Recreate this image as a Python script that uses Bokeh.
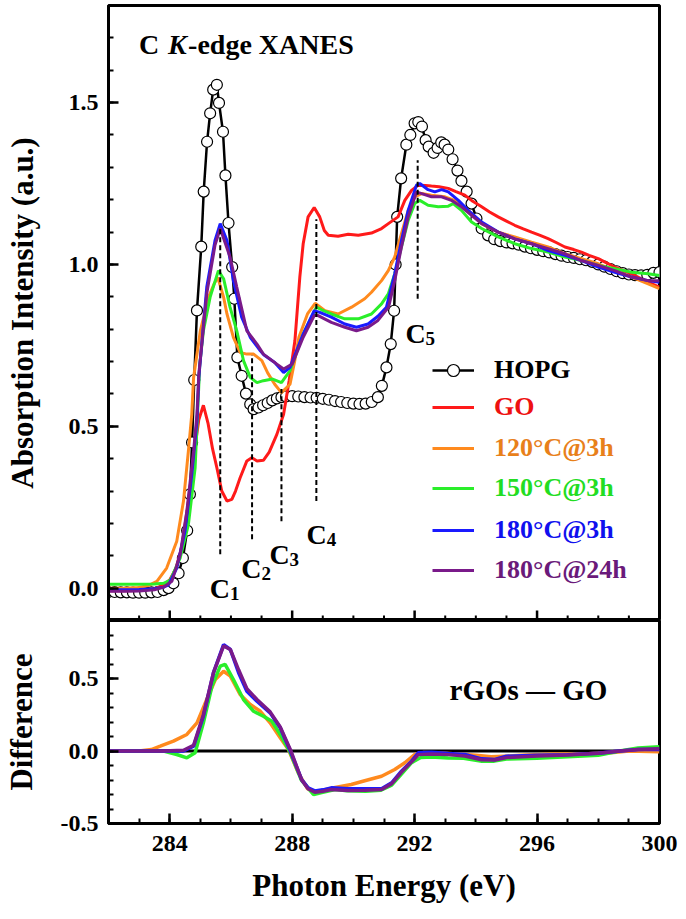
from bokeh.plotting import figure
from bokeh.models import (SingleIntervalTicker, PrintfTickFormatter, Legend, LegendItem,
                          Span, Range1d)
from bokeh.layouts import column
from bokeh.core.properties import value
from bokeh.embed import file_html
from bokeh.resources import INLINE
import math

FONT = "Liberation Serif"

# ---------------- data ----------------
hopg_e = [282.0, 282.2, 282.4, 282.6, 282.8, 283.0, 283.2, 283.4, 283.6, 283.8, 283.96, 284.12,
          284.29, 284.43, 284.57, 284.66, 284.73, 284.8, 284.89, 285.03, 285.11, 285.22, 285.32,
          285.42, 285.54, 285.61, 285.74, 285.82, 285.92, 286.04, 286.11, 286.21, 286.35, 286.49,
          286.63, 286.74, 286.9, 287.05, 287.2, 287.35, 287.5, 287.65, 287.8, 288.0, 288.2, 288.4,
          288.6, 288.8, 289.0, 289.2, 289.4, 289.6, 289.8, 290.0, 290.2, 290.4, 290.6, 290.8,
          290.93, 291.08, 291.22, 291.33, 291.38, 291.43, 291.56, 291.73, 291.86, 292.0, 292.12,
          292.24, 292.36, 292.46, 292.62, 292.75, 292.87, 292.98, 293.1, 293.24, 293.4, 293.53,
          293.7, 293.86, 294.02, 294.19, 294.4, 294.6, 294.8, 295.0, 295.2, 295.4, 295.6, 295.8,
          296.0, 296.2, 296.4, 296.6, 296.8, 297.0, 297.2, 297.4, 297.6, 297.8, 298.0, 298.2,
          298.4, 298.6, 298.8, 299.0, 299.2, 299.4, 299.6, 299.8, 300.0]
hopg_v = [-0.012, -0.012, -0.013, -0.013, -0.014, -0.014, -0.014, -0.013, -0.012, -0.006, 0.0, 0.015,
          0.046, 0.093, 0.178, 0.29, 0.45, 0.643, 0.858, 1.055, 1.225, 1.379, 1.467,
          1.54, 1.555, 1.499, 1.41, 1.275, 1.128, 0.992, 0.894, 0.713, 0.656, 0.601,
          0.568, 0.553, 0.558, 0.565, 0.572, 0.58, 0.586, 0.59, 0.592, 0.593, 0.592, 0.59,
          0.589, 0.588, 0.585, 0.582, 0.578, 0.575, 0.572, 0.57, 0.569, 0.57, 0.575, 0.59,
          0.625, 0.682, 0.754, 0.857, 1.0, 1.147, 1.266, 1.37, 1.40, 1.436, 1.44,
          1.426, 1.384, 1.364, 1.345, 1.36, 1.377, 1.37, 1.355, 1.325, 1.29, 1.258,
          1.225, 1.188, 1.142, 1.111, 1.09, 1.078, 1.072, 1.068, 1.065, 1.061, 1.055, 1.05,
          1.045, 1.041, 1.037, 1.032, 1.027, 1.023, 1.02, 1.016, 1.013, 1.008, 1.0, 0.993,
          0.986, 0.979, 0.973, 0.969, 0.967, 0.966, 0.968, 0.974, 0.976]

go_e = [282.0, 282.5, 283.0, 283.5, 283.8, 284.0, 284.2, 284.4, 284.6, 284.8, 284.95, 285.1,
        285.25, 285.4, 285.54, 285.7, 285.87, 286.03, 286.15, 286.3, 286.52, 286.68, 286.85,
        287.06, 287.25, 287.5, 287.72, 287.9, 288.09, 288.25, 288.36, 288.52, 288.72, 288.9,
        289.05, 289.18, 289.5, 289.83, 290.16, 290.59, 290.92, 291.2, 291.46, 291.68, 291.9,
        292.12, 292.35, 292.55, 292.8, 293.1, 293.35, 293.64, 293.9, 294.19, 294.45, 294.73,
        295.0, 295.27, 295.55, 295.82, 296.1, 296.36, 296.64, 296.91, 297.2, 297.45, 297.7,
        298.0, 298.27, 298.54, 298.8, 299.09, 299.36, 299.63, 300.0]
go_v = [-0.008, -0.008, -0.007, -0.002, 0.01, 0.025, 0.06, 0.13, 0.26, 0.42, 0.52, 0.565,
        0.51, 0.43, 0.372, 0.30, 0.269, 0.274, 0.30, 0.341, 0.393, 0.403, 0.393,
        0.395, 0.42, 0.475, 0.537, 0.64, 0.765, 0.961, 1.064, 1.147, 1.176, 1.147,
        1.105, 1.09, 1.087, 1.093, 1.09, 1.097, 1.111, 1.13, 1.147, 1.198, 1.229,
        1.245, 1.244, 1.242, 1.24, 1.235, 1.225, 1.214, 1.195, 1.178, 1.162, 1.147,
        1.134, 1.121, 1.11, 1.1, 1.09, 1.08, 1.067, 1.054, 1.046, 1.038, 1.028,
        1.018, 1.005, 0.992, 0.982, 0.971, 0.958, 0.945, 0.93]

r120_e = [282.0, 282.5, 283.0, 283.3, 283.58, 283.9, 284.23, 284.45, 284.61, 284.72, 284.78, 285.0,
          285.27, 285.45, 285.57, 285.76, 285.87, 286.08, 286.3, 286.52, 286.74, 287.01, 287.2,
          287.43, 287.65, 287.93, 288.08, 288.22, 288.5, 288.75, 289.07, 289.5, 289.94, 290.37,
          290.59, 290.92, 291.14, 291.35, 291.57, 291.79, 292.0, 292.23, 292.55, 292.99, 293.31,
          293.75, 294.19, 294.73, 295.27, 295.82, 296.36, 296.91, 297.45, 298.0, 298.54, 299.09,
          299.63, 300.0]
r120_v = [0.0, 0.0, 0.002, 0.008, 0.021, 0.062, 0.145, 0.269, 0.424, 0.537, 0.651, 0.795,
          0.899, 0.94, 0.96, 0.899, 0.847, 0.775, 0.728, 0.723, 0.723, 0.703, 0.665,
          0.63, 0.604, 0.63, 0.70, 0.775, 0.847, 0.88, 0.857, 0.847, 0.868, 0.894,
          0.914, 0.95, 0.981, 1.023, 1.095, 1.167, 1.209, 1.219, 1.214, 1.209, 1.198,
          1.167, 1.126, 1.1, 1.085, 1.069, 1.054, 1.033, 1.018, 1.002, 0.981, 0.961,
          0.94, 0.925]

r150_e = [282.0, 282.5, 283.0, 283.5, 283.8, 284.02, 284.34, 284.61, 284.83, 284.9, 284.98, 285.1,
          285.32, 285.59, 285.76, 285.97, 286.19, 286.41, 286.63, 286.85, 287.06, 287.36, 287.65,
          287.93, 288.36, 288.79, 288.96, 289.28, 289.72, 290.16, 290.59, 290.92, 291.14, 291.35,
          291.57, 291.79, 292.0, 292.17, 292.44, 292.77, 293.1, 293.26, 293.53, 293.86, 294.19,
          294.73, 295.27, 295.82, 296.36, 296.91, 297.45, 298.0, 298.54, 299.09, 299.63, 300.0]
r150_v = [0.012, 0.012, 0.012, 0.013, 0.015, 0.025, 0.093, 0.196, 0.372, 0.52, 0.69, 0.795,
          0.899, 0.981, 0.956, 0.868, 0.795, 0.703, 0.651, 0.635, 0.641, 0.646, 0.635,
          0.672, 0.785, 0.868, 0.86, 0.847, 0.832, 0.832, 0.847, 0.878, 0.909, 0.971,
          1.054, 1.136, 1.188, 1.198, 1.183, 1.178, 1.18, 1.188, 1.167, 1.131, 1.111,
          1.085, 1.064, 1.049, 1.038, 1.023, 1.012, 0.997, 0.987, 0.976, 0.971, 0.966]

r180_e = [282.0, 282.5, 283.0, 283.5, 283.8, 283.96, 284.23, 284.5, 284.72, 284.89, 284.95, 285.21,
          285.48, 285.65, 285.87, 286.08, 286.35, 286.63, 286.96, 287.08, 287.43, 287.72, 287.93,
          288.36, 288.72, 288.9, 289.28, 289.72, 290.1, 290.48, 290.8, 291.08, 291.35, 291.57,
          291.79, 292.06, 292.17, 292.44, 292.66, 292.88, 293.1, 293.43, 293.75, 294.19, 294.73,
          295.27, 295.82, 296.36, 296.91, 297.45, 298.0, 298.54, 299.09, 299.63, 300.0]
r180_v = [-0.005, -0.005, -0.004, -0.002, 0.003, 0.01, 0.062, 0.176, 0.351, 0.517, 0.65, 0.93,
          1.074, 1.126, 1.074, 0.95, 0.837, 0.775, 0.733, 0.72, 0.697, 0.666, 0.682,
          0.785, 0.857, 0.852, 0.837, 0.816, 0.806, 0.816, 0.84, 0.868, 0.971, 1.074,
          1.167, 1.245, 1.25, 1.231, 1.224, 1.231, 1.224, 1.198, 1.167, 1.131, 1.1,
          1.079, 1.064, 1.043, 1.028, 1.012, 0.992, 0.976, 0.961, 0.95, 0.945]

r24_e = [282.0, 282.5, 283.0, 283.5, 283.8, 284.07, 284.34, 284.56, 284.78, 284.89, 284.95, 285.21,
         285.48, 285.65, 285.97, 286.19, 286.52, 286.85, 287.06, 287.5, 287.72, 288.0, 288.36,
         288.72, 288.85, 289.28, 289.72, 290.1, 290.48, 290.79, 291.15, 291.35, 291.57, 291.79,
         292.06, 292.23, 292.55, 292.88, 293.2, 293.53, 293.86, 294.19, 294.73, 295.27, 295.82,
         296.36, 296.91, 297.45, 298.0, 298.54, 299.09, 299.63, 300.0]
r24_v = [-0.01, -0.01, -0.009, -0.005, 0.003, 0.021, 0.103, 0.238, 0.424, 0.537, 0.66, 0.91,
         1.06, 1.111, 1.023, 0.93, 0.795, 0.754, 0.723, 0.692, 0.677, 0.692, 0.775,
         0.842, 0.842, 0.821, 0.806, 0.795, 0.806, 0.826, 0.868, 0.95, 1.054, 1.147,
         1.224, 1.219, 1.209, 1.209, 1.198, 1.178, 1.152, 1.126, 1.1, 1.079, 1.064,
         1.049, 1.033, 1.012, 0.997, 0.981, 0.961, 0.95, 0.95]

# difference spectra (rGO - GO)
d120_e = [282.0, 283.0, 283.4, 283.69, 284.12, 284.56, 284.89, 285.21, 285.49, 285.76, 285.98,
          286.3, 286.63, 286.96, 287.28, 287.61, 287.88, 288.2, 288.5, 288.75, 289.0, 289.36,
          289.93, 290.37, 290.92, 291.35, 291.68, 292.0, 292.3, 293.0, 294.0, 294.5, 295.5,
          296.5, 297.5, 298.5, 299.0, 300.0]
d120_v = [0.0, 0.0, 0.01, 0.033, 0.068, 0.114, 0.194, 0.355, 0.493, 0.55, 0.516,
          0.39, 0.321, 0.274, 0.194, 0.091, 0.01, -0.15, -0.26, -0.285, -0.27, -0.254,
          -0.231, -0.205, -0.174, -0.128, -0.081, -0.024, -0.01, -0.015, -0.03, -0.04, -0.03,
          -0.02, -0.02, -0.01, 0.0, -0.005]

d150_e = [282.0, 283.5, 283.8, 284.23, 284.56, 284.83, 285.1, 285.38, 285.65, 285.81, 286.08,
          286.41, 286.74, 287.06, 287.34, 287.61, 287.94, 288.3, 288.7, 289.0, 289.4, 289.8,
          290.4, 290.9, 291.25, 291.57, 291.9, 292.2, 292.55, 293.1, 293.6, 294.2, 294.6,
          295.0, 296.0, 297.0, 298.0, 298.7, 299.3, 300.0]
d150_v = [0.0, 0.0, 0.0, -0.024, -0.047, -0.012, 0.194, 0.447, 0.585, 0.597, 0.493,
          0.355, 0.274, 0.24, 0.205, 0.114, -0.012, -0.2, -0.3, -0.285, -0.265, -0.275,
          -0.278, -0.27, -0.235, -0.16, -0.08, -0.045, -0.042, -0.048, -0.05, -0.07, -0.07,
          -0.055, -0.05, -0.04, -0.03, 0.0, 0.02, 0.03]

d180_e = [282.0, 283.8, 284.45, 284.78, 285.1, 285.43, 285.76, 285.98, 286.25, 286.52, 286.85,
          287.28, 287.61, 287.94, 288.31, 288.52, 288.74, 289.0, 289.28, 289.83, 290.37, 290.92,
          291.25, 291.57, 291.9, 292.12, 292.55, 293.1, 293.64, 294.19, 294.62, 295.0, 296.0,
          297.0, 298.0, 298.7, 299.3, 300.0]
d180_v = [0.0, 0.0, 0.0, 0.033, 0.24, 0.54, 0.734, 0.70, 0.54, 0.412, 0.343,
          0.263, 0.16, 0.0, -0.197, -0.254, -0.275, -0.268, -0.254, -0.261, -0.261, -0.261,
          -0.219, -0.139, -0.07, -0.012, -0.008, -0.017, -0.024, -0.054, -0.059, -0.036, -0.03,
          -0.025, -0.015, 0.0, 0.01, 0.01]

d24_e = [282.0, 283.8, 284.45, 284.78, 285.1, 285.43, 285.76, 285.98, 286.25, 286.52, 286.85,
         287.28, 287.61, 287.96, 288.31, 288.52, 288.74, 289.0, 289.28, 289.83, 290.37, 290.92,
         291.25, 291.57, 291.9, 292.12, 292.55, 293.1, 293.64, 294.19, 294.62, 295.0, 296.0,
         297.0, 298.0, 298.7, 299.3, 300.0]
d24_v = [0.0, 0.0, 0.005, 0.04, 0.25, 0.54, 0.725, 0.70, 0.56, 0.43, 0.355,
         0.27, 0.165, 0.0, -0.2, -0.26, -0.285, -0.278, -0.265, -0.272, -0.27, -0.265,
         -0.225, -0.145, -0.075, -0.025, -0.02, -0.025, -0.035, -0.06, -0.062, -0.045, -0.035,
         -0.028, -0.015, 0.0, 0.01, 0.015]

# peak markers C1..C5: energy, dashed line bottom/top, label anchor
peak_names = ["1", "2", "3", "4", "5"]
peak_e = [285.65, 286.69, 287.65, 288.79, 292.1]
peak_lo = [0.105, 0.151, 0.207, 0.269, 0.894]
peak_hi = [1.11, 0.72, 0.615, 1.14, 1.322]
peak_lbl_e = [285.64, 286.67, 287.59, 288.8, 292.03]
peak_lbl_v = [0.0, 0.062, 0.104, 0.166, 0.786]

# energy-axis ticks
x_major_ticks = [284, 288, 292, 296, 300]
x_minor_ticks = [283, 285, 286, 287, 289, 290, 291, 293, 294, 295, 297, 298, 299]

legend_labels = ["HOPG", "GO", "120°C@3h", "150°C@3h", "180°C@3h", "180°C@24h"]
colors = ["#000000", "#ff1a1a", "#ff8a1e", "#2aee2a", "#1a1aff", "#7a1a8a"]
legend_text_colors = ["#000000", "#ee1111", "#e8801a", "#22dd22", "#1010ee", "#6a1a7a"]

X_RANGE = (282, 300)
Y_TOP = (-0.1, 1.8)
Y_BOT = (-0.5, 0.9)


def style(p):
    p.grid.visible = False
    p.outline_line_color = "black"
    p.outline_line_width = 3
    p.background_fill_color = "white"
    p.border_fill_color = "white"
    for ax in p.axis:
        ax.axis_line_width = 3
        ax.axis_line_color = "black"
        ax.major_tick_line_width = 2.5
        ax.minor_tick_line_width = 2
        ax.major_tick_in = 10
        ax.major_tick_out = 0
        ax.minor_tick_in = 5
        ax.minor_tick_out = 0
        ax.major_label_text_font = FONT
        ax.major_label_text_font_style = "bold"
        ax.major_label_text_font_size = "24px"
        ax.major_label_text_color = "black"
        ax.axis_label_text_font = FONT
        ax.axis_label_text_font_style = "bold"
        ax.axis_label_text_font_size = "31px"
        ax.axis_label_text_color = "black"


# ---------------- top panel ----------------
top = figure(frame_width=551, frame_height=615, x_range=Range1d(*X_RANGE),
             y_range=Range1d(*Y_TOP), output_backend="svg", toolbar_location=None,
             x_axis_location=None,
             min_border_left=107, min_border_right=20, min_border_top=5, min_border_bottom=0)
style(top)
top.yaxis.ticker = SingleIntervalTicker(interval=0.5, num_minor_ticks=5)
top.yaxis.formatter = PrintfTickFormatter(format="%.1f")
top.yaxis.axis_label = "Absorption Intensity (a.u.)"
top.yaxis.major_label_standoff = 10
top.yaxis.axis_label_standoff = 26

# inward energy ticks on the lower edge of the upper panel (no labels there)
top.scatter(x_major_ticks, [Y_TOP[0]] * len(x_major_ticks), marker="dash", angle=math.pi / 2,
            size=20, line_color="black", line_width=2.5)
top.scatter(x_minor_ticks, [Y_TOP[0]] * len(x_minor_ticks), marker="dash", angle=math.pi / 2,
            size=10, line_color="black", line_width=2)

h_line = top.line(hopg_e, hopg_v, line_color="black", line_width=2.5)
h_pts = top.scatter(hopg_e, hopg_v, marker="circle", size=11, fill_color="white",
                    line_color="black", line_width=1.2)
r_go = top.line(go_e, go_v, line_color=colors[1], line_width=3)
r_120 = top.line(r120_e, r120_v, line_color=colors[2], line_width=3)
r_150 = top.line(r150_e, r150_v, line_color=colors[3], line_width=3)
r_180 = top.line(r180_e, r180_v, line_color=colors[4], line_width=3)
r_24 = top.line(r24_e, r24_v, line_color=colors[5], line_width=3)

top.segment(x0=peak_e, y0=peak_lo, x1=peak_e, y1=peak_hi, line_color="black",
            line_width=2, line_dash="5 3")
top.text(x=peak_lbl_e, y=peak_lbl_v, text=["C"] * 5, text_font=value(FONT),
         text_font_style="bold", text_font_size="28px", text_align="center",
         text_baseline="alphabetic", text_color="black")
top.text(x=peak_lbl_e, y=peak_lbl_v, text=peak_names, text_font=value(FONT),
         text_font_style="bold", text_font_size="19px", text_align="left",
         text_baseline="alphabetic", text_color="black", x_offset=10, y_offset=5)

# title "C K-edge XANES"
top.text(x=[283.0], y=[1.68], text=["C"], text_font=value(FONT), text_font_style="bold",
         text_font_size="28px", text_align="left", text_baseline="alphabetic")
top.text(x=[283.0], y=[1.68], text=["K"], text_font=value(FONT), text_font_style="bold italic",
         text_font_size="28px", text_align="left", text_baseline="alphabetic", x_offset=29)
top.text(x=[283.0], y=[1.68], text=["-edge XANES"], text_font=value(FONT), text_font_style="bold",
         text_font_size="28px", text_align="left", text_baseline="alphabetic", x_offset=49)

renders = [[h_line, h_pts], [r_go], [r_120], [r_150], [r_180], [r_24]]
legend_y = [235, 198, 157, 117, 75, 35]
for lbl, rs, tc, ly in zip(legend_labels, renders, legend_text_colors, legend_y):
    lg = Legend(items=[LegendItem(label=lbl, renderers=rs)], location=(324, ly),
                padding=0, margin=0, spacing=0, glyph_width=42, glyph_height=30,
                label_height=30, label_standoff=20, border_line_alpha=0,
                background_fill_alpha=0, label_text_font=FONT, label_text_font_style="bold",
                label_text_font_size="26px", label_text_color=tc)
    top.add_layout(lg)

# ---------------- bottom panel ----------------
bot = figure(frame_width=551, frame_height=203, x_range=top.x_range,
             y_range=Range1d(*Y_BOT), output_backend="svg", toolbar_location=None,
             min_border_left=107, min_border_right=20, min_border_top=0, min_border_bottom=0)
style(bot)
bot.xaxis.ticker = SingleIntervalTicker(interval=4, num_minor_ticks=4)
bot.xaxis.axis_label = "Photon Energy (eV)"
bot.xaxis.major_label_standoff = 12
bot.xaxis.axis_label_standoff = 14
bot.yaxis.ticker = SingleIntervalTicker(interval=0.5, num_minor_ticks=5)
bot.yaxis.formatter = PrintfTickFormatter(format="%.1f")
bot.yaxis.axis_label = "Difference"
bot.yaxis.major_label_standoff = 10
bot.yaxis.axis_label_standoff = 19

bot.add_layout(Span(location=0, dimension="width", line_color="black", line_width=3,
                    level="underlay"))
bot.line(d120_e, d120_v, line_color=colors[2], line_width=3.5)
bot.line(d150_e, d150_v, line_color=colors[3], line_width=3.5)
bot.line(d180_e, d180_v, line_color=colors[4], line_width=3.5)
bot.line(d24_e, d24_v, line_color=colors[5], line_width=3.5)
bot.text(x=[293.14], y=[0.424], text=["rGOs \u2014 GO"], text_font=value(FONT),
         text_font_style="bold", text_font_size="29px", text_align="left",
         text_baseline="alphabetic")

layout = column(top, bot, spacing=0)
open("out.html", "w").write(file_html(layout, INLINE))
